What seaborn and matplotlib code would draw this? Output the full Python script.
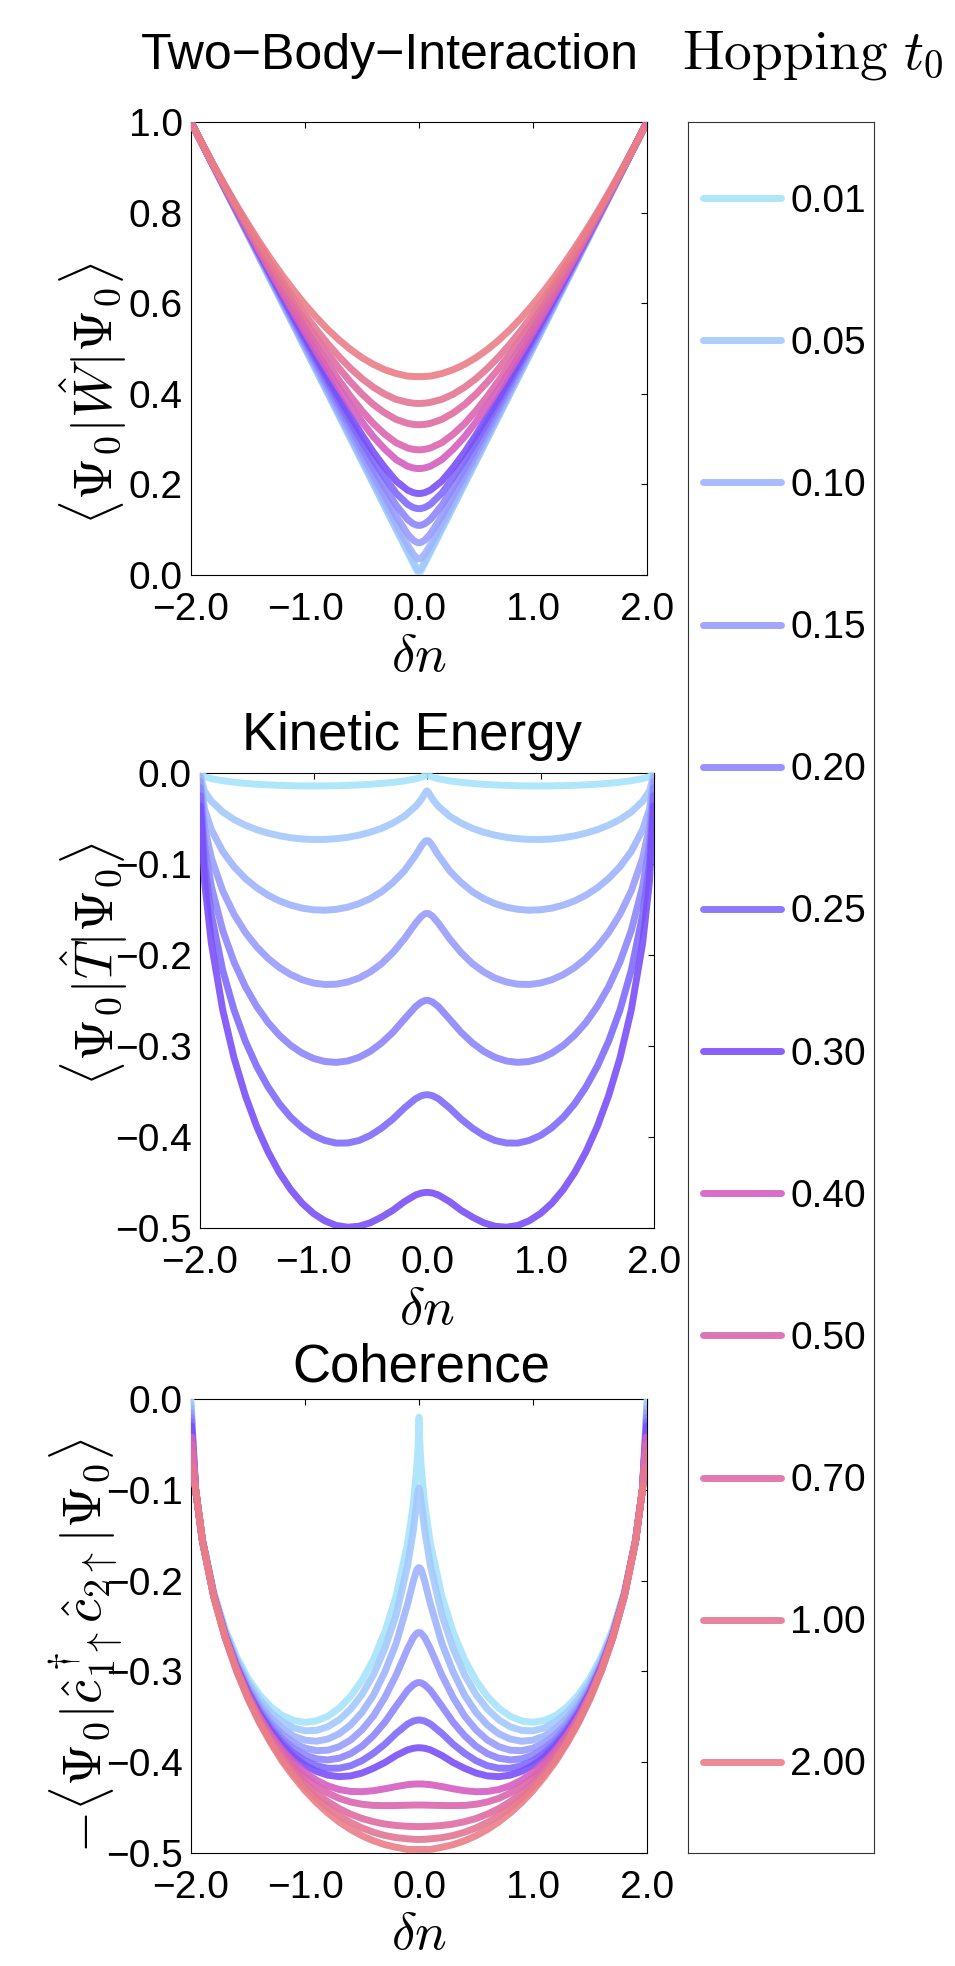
import numpy as np
import pandas as pd
import matplotlib
matplotlib.use("Agg")
from matplotlib import pyplot as plt
from matplotlib.ticker import FuncFormatter
import seaborn as sns

# Hubbard dimer ground state vs density difference, three observables
hopping = [0.01, 0.05, 0.10, 0.15, 0.20, 0.25, 0.30, 0.40, 0.50, 0.70, 1.00, 2.00]
hop_labels = ['0.01', '0.05', '0.10', '0.15', '0.20', '0.25', '0.30',
              '0.40', '0.50', '0.70', '1.00', '2.00']
hop_colors = ['#a8e4fb', '#a4c8fd', '#9fb4fd', '#989cfd', '#8e86fd', '#816bfc',
              '#7a50f8', '#d55ec0', '#db66b0', '#df6ca2', '#e47694', '#ea7e88']

# dn >= 0 half of every curve (the curves are symmetric), plus one edge point per curve
dn_half = [0.0, 0.01, 0.02, 0.05, 0.1, 0.2, 0.3, 0.4, 0.5, 0.6, 0.7, 0.8, 0.9, 1.0,
           1.1, 1.2, 1.3, 1.4, 1.5, 1.6, 1.7, 1.8, 1.9, 1.96]
dn_edge = [2.0, 1.9999, 1.9996, 1.9991, 1.9984, 1.9975, 1.9964, 1.9929, 1.99, 1.9856, 1.9775, 1.9639]

# two-body interaction <W>
W_half = [
    [.0004, .0051, .0101, .0251, .0501, .1001, .1501, .2001, .2501, .3001, .3501, .4001, .4501, .5001, .5501, .6000, .6501, .7000, .7501, .8000, .8500, .9000, .9500, .9800],
    [.0097, .0114, .0151, .0288, .0531, .1026, .1523, .2021, .2519, .3018, .3516, .4014, .4513, .5012, .5510, .6009, .6508, .7006, .7505, .8004, .8503, .9002, .9501, .9800],
    [.0358, .0362, .0374, .0459, .0660, .1121, .1603, .2089, .2579, .3070, .3562, .4055, .4549, .5042, .5537, .6031, .6526, .7021, .7517, .8013, .8509, .9005, .9502, .9801],
    [.0713, .0715, .0722, .0768, .0906, .1297, .1745, .2203, .2675, .3152, .3633, .4116, .4601, .5086, .5574, .6062, .6551, .7041, .7532, .8023, .8515, .9009, .9503, .9801],
    [.1096, .1097, .1101, .1130, .1226, .1536, .1934, .2354, .2800, .3257, .3721, .4190, .4663, .5139, .5617, .6097, .6579, .7062, .7547, .8034, .8522, .9012, .9504, .9801],
    [.1465, .1466, .1469, .1489, .1559, .1805, .2151, .2528, .2943, .3376, .3820, .4272, .4731, .5195, .5662, .6133, .6607, .7083, .7563, .8044, .8528, .9015, .9505, .9801],
    [.1799, .1800, .1802, .1818, .1873, .2073, .2373, .2710, .3092, .3499, .3921, .4356, .4800, .5250, .5707, .6169, .6635, .7104, .7577, .8054, .8534, .9017, .9505, .9802],
    [.2350, .2351, .2352, .2363, .2400, .2546, .2777, .3052, .3379, .3737, .4119, .4519, .4933, .5358, .5793, .6236, .6685, .7141, .7603, .8071, .8543, .9022, .9506, .9802],
    [.2764, .2764, .2766, .2774, .2804, .2919, .3108, .3342, .3625, .3943, .4292, .4661, .5051, .5452, .5868, .6293, .6729, .7173, .7625, .8084, .8551, .9025, .9507, .9802],
    [.3318, .3318, .3319, .3325, .3347, .3434, .3577, .3762, .3994, .4261, .4558, .4885, .5231, .5601, .5985, .6385, .6798, .7223, .7659, .8105, .8563, .9030, .9508, .9802],
    [.3787, .3787, .3788, .3793, .3811, .3876, .3992, .4145, .4335, .4560, .4818, .5104, .5416, .5750, .6103, .6477, .6867, .7272, .7693, .8126, .8574, .9035, .9509, .9802],
    [.4380, .4380, .4380, .4383, .4390, .4447, .4532, .4649, .4798, .4977, .5185, .5421, .5685, .5972, .6284, .6618, .6973, .7348, .7744, .8158, .8590, .9041, .9511, .9802],
]
W_edge = [1.0, 1.0, 0.9998, 0.9996, 0.9992, 0.9988, 0.9982, 0.9965, 0.995, 0.9928, 0.9888, 0.982]

# kinetic energy <T> (only the seven smallest hoppings fall inside the window)
T_half = [
    [-.0008, -.0022, -.0030, -.0046, -.0064, -.0087, -.0103, -.0115, -.0124, -.0131, -.0136, -.0140, -.0142, -.0142, -.0142, -.0139, -.0136, -.0130, -.0123, -.0114, -.0101, -.0085, -.0062, -.0040],
    [-.0196, -.0207, -.0228, -.0289, -.0367, -.0475, -.0550, -.0608, -.0651, -.0683, -.0707, -.0722, -.0730, -.0731, -.0725, -.0711, -.0690, -.0661, -.0623, -.0574, -.0511, -.0428, -.0310, -.0199],
    [-.0743, -.0745, -.0752, -.0803, -.0903, -.1076, -.1203, -.1305, -.1380, -.1436, -.1475, -.1498, -.1508, -.1503, -.1485, -.1452, -.1406, -.1343, -.1262, -.1160, -.1030, -.0861, -.0622, -.0397],
    [-.1543, -.1544, -.1549, -.1576, -.1650, -.1823, -.1973, -.2095, -.2186, -.2254, -.2297, -.2321, -.2324, -.2308, -.2272, -.2216, -.2138, -.2038, -.1911, -.1753, -.1553, -.1295, -.0934, -.0596],
    [-.2498, -.2499, -.2502, -.2518, -.2566, -.2706, -.2849, -.2966, -.3059, -.3125, -.3165, -.3180, -.3170, -.3137, -.3078, -.2994, -.2883, -.2742, -.2566, -.2349, -.2078, -.1730, -.1246, -.0794],
    [-.3536, -.3536, -.3538, -.3547, -.3579, -.3682, -.3802, -.3902, -.3983, -.4039, -.4066, -.4067, -.4038, -.3983, -.3898, -.3784, -.3636, -.3451, -.3225, -.2948, -.2605, -.2167, -.1558, -.0994],
    [-.4609, -.4609, -.4610, -.4616, -.4637, -.4711, -.4805, -.4880, -.4943, -.4981, -.4991, -.4972, -.4921, -.4841, -.4728, -.4579, -.4393, -.4164, -.3886, -.3547, -.3132, -.2603, -.1871, -.1193],
]
T_edge = [0.0, -0.001, -0.004, -0.009, -0.016, -0.025, -0.036]

# coherence -<c1^+ c2>
C_half = [
    [-.0200, -.0557, -.0759, -.1156, -.1591, -.2166, -.2567, -.2869, -.3099, -.3275, -.3405, -.3494, -.3545, -.3561, -.3540, -.3484, -.3390, -.3255, -.3074, -.2838, -.2532, -.2126, -.1544, -.0991],
    [-.0981, -.1034, -.1139, -.1445, -.1836, -.2376, -.2750, -.3038, -.3254, -.3416, -.3533, -.3610, -.3650, -.3654, -.3623, -.3555, -.3452, -.3307, -.3116, -.2870, -.2555, -.2140, -.1549, -.0993],
    [-.1857, -.1863, -.1881, -.2008, -.2257, -.2689, -.3007, -.3263, -.3451, -.3590, -.3687, -.3745, -.3769, -.3757, -.3712, -.3630, -.3514, -.3358, -.3156, -.2900, -.2575, -.2152, -.1554, -.0993],
    [-.2572, -.2574, -.2581, -.2626, -.2750, -.3039, -.3288, -.3491, -.3644, -.3756, -.3829, -.3868, -.3873, -.3846, -.3786, -.3693, -.3564, -.3397, -.3185, -.2921, -.2588, -.2159, -.1556, -.0993],
    [-.3123, -.3124, -.3127, -.3148, -.3208, -.3382, -.3561, -.3708, -.3824, -.3906, -.3956, -.3975, -.3963, -.3921, -.3848, -.3743, -.3604, -.3427, -.3208, -.2936, -.2598, -.2163, -.1557, -.0993],
    [-.3536, -.3536, -.3538, -.3547, -.3579, -.3682, -.3802, -.3902, -.3983, -.4039, -.4066, -.4067, -.4038, -.3983, -.3898, -.3784, -.3636, -.3451, -.3225, -.2948, -.2605, -.2167, -.1558, -.0994],
    [-.3841, -.3841, -.3842, -.3847, -.3864, -.3926, -.4004, -.4067, -.4119, -.4151, -.4159, -.4143, -.4101, -.4034, -.3940, -.3816, -.3661, -.3470, -.3238, -.2956, -.2610, -.2169, -.1559, -.0994],
    [-.4240, -.4240, -.4240, -.4242, -.4247, -.4268, -.4293, -.4314, -.4325, -.4322, -.4301, -.4260, -.4197, -.4112, -.4001, -.3864, -.3697, -.3497, -.3257, -.2969, -.2617, -.2172, -.1559, -.0994],
    [-.4472, -.4472, -.4472, -.4472, -.4474, -.4477, -.4478, -.4476, -.4463, -.4438, -.4398, -.4339, -.4263, -.4164, -.4043, -.3897, -.3722, -.3515, -.3269, -.2977, -.2621, -.2174, -.1560, -.0994],
    [-.4709, -.4709, -.4709, -.4708, -.4706, -.4697, -.4681, -.4655, -.4620, -.4572, -.4511, -.4435, -.4340, -.4227, -.4093, -.3935, -.3751, -.3536, -.3284, -.2985, -.2626, -.2176, -.1560, -.0995],
    [-.4851, -.4851, -.4851, -.4849, -.4844, -.4831, -.4807, -.4771, -.4724, -.4663, -.4589, -.4501, -.4396, -.4272, -.4129, -.3963, -.3771, -.3551, -.3294, -.2992, -.2630, -.2178, -.1561, -.0995],
    [-.4961, -.4961, -.4961, -.4961, -.4961, -.4937, -.4908, -.4865, -.4810, -.4741, -.4658, -.4559, -.4445, -.4313, -.4159, -.3989, -.3789, -.3565, -.3303, -.2998, -.2633, -.2179, -.1561, -.0995],
]
C_edge = [-0.001, -0.005, -0.010, -0.015, -0.020, -0.025, -0.030, -0.042, -0.050, -0.060, -0.075, -0.095]


def long_frame(halves, edges, n):
    rows = []
    for i in range(n):
        xs = dn_half + [dn_edge[i]]
        ys = halves[i] + [edges[i]]
        # reflect the dn >= 0 half onto dn <= 0
        full_x = [-v for v in xs[::-1]] + xs[1:]
        full_y = ys[::-1] + ys[1:]
        for x, y in zip(full_x, full_y):
            rows.append((x, y, hop_labels[i]))
    return pd.DataFrame(rows, columns=['dn', 'val', 'hop'])


sns.set_style("white")
plt.rcParams['font.family'] = ['Liberation Sans', 'DejaVu Sans']
plt.rcParams['mathtext.fontset'] = 'cm'
plt.rcParams['text.color'] = 'black'
plt.rcParams['axes.labelcolor'] = 'black'
plt.rcParams['xtick.color'] = 'black'
plt.rcParams['ytick.color'] = 'black'

W = 955
H = 1966
fig = plt.figure(figsize=(W / 100, H / 100), dpi=100)


def px_axes(x0, y0, x1, y1):
    return fig.add_axes([x0 / W, 1 - y1 / H, (x1 - x0) / W, (y1 - y0) / H])


ax1 = px_axes(191, 122, 647, 575)
ax2 = px_axes(200, 773, 654, 1228)
ax3 = px_axes(191, 1399, 647, 1853)

palette = dict(zip(hop_labels, hop_colors))
panels = [
    (ax1, long_frame(W_half, W_edge, 12), hop_labels),
    (ax2, long_frame(T_half, T_edge, 7), hop_labels[:7]),
    (ax3, long_frame(C_half, C_edge, 12), hop_labels),
]
for ax, df, order in panels:
    sns.lineplot(data=df, x='dn', y='val', hue='hop', hue_order=order, palette=palette,
                 estimator=None, sort=False, legend=False, linewidth=5, alpha=0.9,
                 zorder=3, ax=ax)

fmt = FuncFormatter(lambda v, p: f'{v:.1f}'.replace('-', '\u2212'))
for ax in (ax1, ax2, ax3):
    ax.set_xlim(-2, 2)
    ax.set_xticks([-2, -1, 0, 1, 2])
    ax.xaxis.set_major_formatter(fmt)
    ax.yaxis.set_major_formatter(fmt)
    ax.tick_params(direction='in', length=4, width=0.8, top=True, right=True,
                   labelsize=28, colors='black')
    ax.tick_params(axis='x', pad=12)
    ax.tick_params(axis='y', pad=6)
    for s in ax.spines.values():
        s.set_linewidth(0.8)
        s.set_color('black')
    ax.set_xlabel(r'$\delta n$', fontsize=38, va='center')
    ax.xaxis.set_label_coords(0.5, -0.18)

ax1.set_ylim(0, 1)
ax1.set_yticks([0, 0.2, 0.4, 0.6, 0.8, 1.0])
for ax in (ax2, ax3):
    ax.set_ylim(-0.5, 0)
    ax.set_yticks([-0.5, -0.4, -0.3, -0.2, -0.1, 0.0])

ax1.set_ylabel(r'$\langle\Psi_0|\hat{W}|\Psi_0\rangle$', fontsize=39, va='center', ha='center')
ax1.yaxis.set_label_coords(-0.215, 0.40)
ax2.set_ylabel(r'$\langle\Psi_0|\hat{T}|\Psi_0\rangle$', fontsize=39, va='center', ha='center')
ax2.yaxis.set_label_coords(-0.233, 0.58)
ax3.set_ylabel(r'$-\langle\Psi_0|\hat{c}^\dagger_{1\uparrow}\hat{c}_{2\uparrow}|\Psi_0\rangle$',
               fontsize=39, va='center', ha='center')
ax3.yaxis.set_label_coords(-0.232, 0.456)

fig.text(390 / W, 1 - 69 / H, 'Two\u2212Body\u2212Interaction', ha='center', va='baseline', fontsize=36)
fig.text(412 / W, 1 - 750 / H, 'Kinetic Energy', ha='center', va='baseline', fontsize=38)
fig.text(421 / W, 1 - 1382 / H, 'Coherence', ha='center', va='baseline', fontsize=38)
fig.text(813 / W, 1 - 69 / H, r'$\mathrm{Hopping}\ t_0$', ha='center', va='baseline', fontsize=40)

# legend box on the right
ax_leg = px_axes(688, 122, 874, 1853)
ax_leg.set_xticks([])
ax_leg.set_yticks([])
for s in ax_leg.spines.values():
    s.set_linewidth(0.8)
    s.set_color('#333333')
handles = ax1.get_lines()[:12]
ax_leg.legend(handles, hop_labels, loc='upper left', bbox_to_anchor=(0.08, 0.9644),
              frameon=False, fontsize=28, handlelength=2.0, handletextpad=0.25,
              labelspacing=2.73, borderpad=0, borderaxespad=0)

fig.savefig('out.png', dpi=100)
